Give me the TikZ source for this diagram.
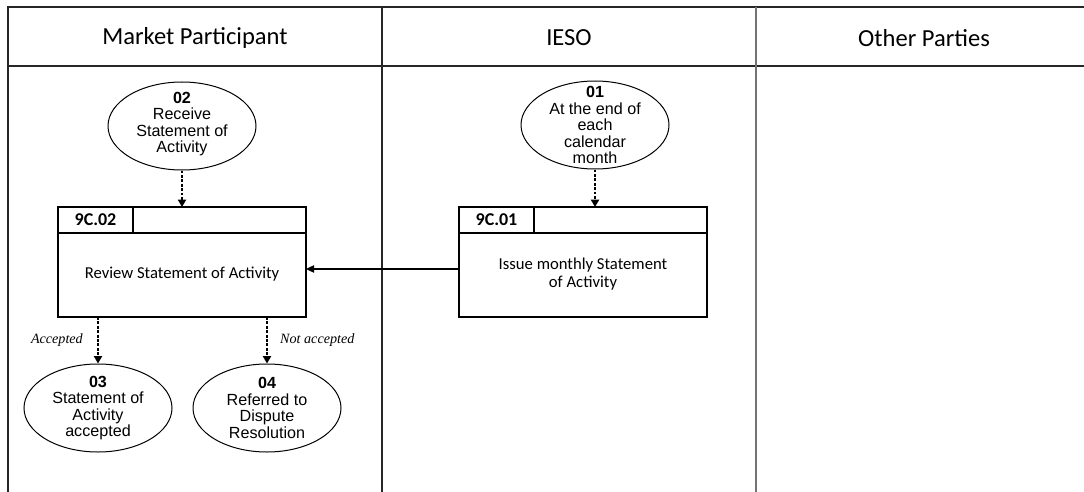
\documentclass[tikz,border=0pt]{standalone}
\usepackage{fontspec}
\setmainfont{Carlito}
\newfontfamily\arialfont{Liberation Sans}
\newfontfamily\timesfont{Liberation Serif}
\usetikzlibrary{arrows.meta,positioning,calc,shapes.geometric}

\begin{document}
\begin{tikzpicture}[x=0.75pt,y=-0.75pt,
 lane/.style={draw=black!85,line width=1pt},
 lanehead/.style={font=\fontsize{18.4}{22}\selectfont},
 actbox/.style={draw=black,line width=1pt,minimum width=186pt,minimum height=82.5pt,inner sep=0pt,outer sep=0pt},
 actid/.style={font=\bfseries\fontsize{13.5}{16}\selectfont,inner sep=0pt},
 acttxt/.style={font=\fontsize{12.5}{13}\selectfont,align=center,inner sep=0pt},
 evt/.style={ellipse,draw=black,line width=0.75pt,minimum width=111pt,minimum height=66pt,inner sep=0pt},
 evttxt/.style={font=\arialfont\fontsize{12.1}{12.4}\selectfont,align=center,inner sep=0pt},
 cond/.style={font=\timesfont\itshape\fontsize{10.6}{12}\selectfont,inner sep=0pt},
 dflow/.style={line width=1.8pt,dash pattern=on 2.2pt off 1.1pt,-{Triangle[width=6pt,length=5.5pt]}},
 flow/.style={line width=0.9pt,-{Triangle[width=5.5pt,length=6pt]}}]
\useasboundingbox (0,0) rectangle (1084,492);
% lanes
\draw[lane] (8,492) -- (8,7) -- (1084,7);
\draw[lane] (8,66) -- (1084,66);
\draw[lane] (382,7) -- (382,492);
\draw[lane,draw=black!55] (756,7) -- (756,492);
\node[lanehead] (hdMP) at (195,38) {Market Participant};
\node[lanehead] (hdIESO) at (569,38) {IESO};
\node[lanehead] (hdOP) at (924,38) {Other Parties};
% events
\node[evt] (e02) at (182,126) {};
\node[evttxt] (e02txt) at ($(e02)+(0,-2)$) {\textbf{02}\\Receive\\Statement of\\Activity};
\node[evt] (e01) at (595,125) {};
\node[evttxt] (e01txt) at (e01) {\textbf{01}\\At the end of\\each\\calendar\\month};
\node[evt] (e03) at (98,408) {};
\node[evttxt] (e03txt) at (e03) {\textbf{03}\\Statement of\\Activity\\accepted};
\node[evt] (e04) at (267,408) {};
\node[evttxt] (e04txt) at (e04) {\textbf{04}\\Referred to\\Dispute\\Resolution};
% activities
\node[actbox] (b02) at (182,262) {};
\node[actbox] (b01) at (583,262) {};
\foreach \b/\n in {b02/02,b01/01}{
  \draw[line width=1pt] ($(\b.north west)+(0,26)$) -- ($(\b.north east)+(0,26)$);
  \draw[line width=1pt] ($(\b.north west)+(75,0)$) -- ($(\b.north west)+(75,26)$);
  \node[actid] (\b-id) at ($(\b.north west)+(37.5,13)$) {9C.\n};
}
\node[acttxt] (b02txt) at ($(b02)+(0,12)$) {Review Statement of Activity};
\node[acttxt] (b01txt) at ($(b01)+(0,12)$) {Issue monthly Statement\\of Activity};
% connectors
\draw[dflow] (e02.south) -- (b02.north);
\draw[dflow] (e01.south) -- (e01.south |- b01.north);
\draw[flow] ($(b01.west)+(0,7)$) -- ($(b02.east)+(0,7)$);
\draw[dflow] (b02.south -| e03.north) -- (e03.north) node[cond,midway,left=10.5pt] {Accepted};
\draw[dflow] (b02.south -| e04.north) -- (e04.north) node[cond,midway,right=9pt] {Not accepted};
\end{tikzpicture}
\end{document}
